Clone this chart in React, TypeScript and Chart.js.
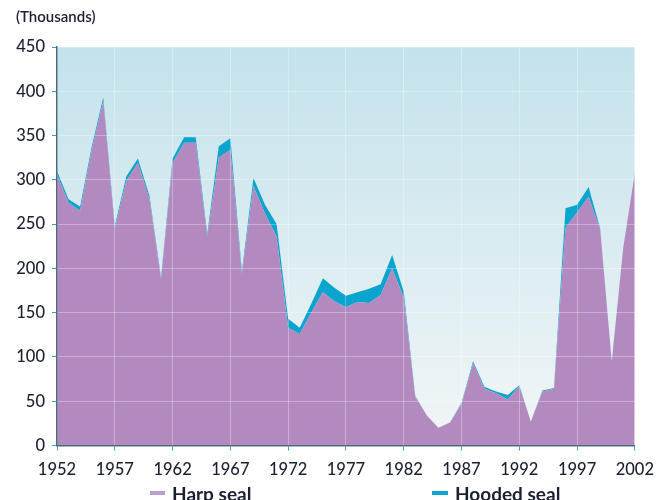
import React, { useEffect, useRef } from "react";
import { Chart, registerables } from "chart.js";

Chart.register(...registerables);

const years: number[] = [
  1952, 1953, 1954, 1955, 1956, 1957, 1958, 1959, 1960, 1961,
  1962, 1963, 1964, 1965, 1966, 1967, 1968, 1969, 1970, 1971,
  1972, 1973, 1974, 1975, 1976, 1977, 1978, 1979, 1980, 1981,
  1982, 1983, 1984, 1985, 1986, 1987, 1988, 1989, 1990, 1991,
  1992, 1993, 1994, 1995, 1996, 1997, 1998, 1999, 2000, 2001,
  2002,
];

// Thousands of animals
const harpSeal: number[] = [
  306, 274, 265, 333, 389, 245, 299, 319, 278, 188,
  319, 342, 342, 236, 325, 334, 194, 293, 262, 236,
  133, 126, 150, 173, 163, 156, 162, 161, 170, 200,
  167, 55, 34, 20, 26, 47, 93, 64, 59, 52,
  67, 27, 61, 64, 246, 263, 281, 244, 95, 224,
  308,
];

const hoodedSeal: number[] = [
  4, 4, 5, 4, 4, 3, 5, 5, 4, 2,
  5, 6, 6, 3, 13, 13, 3, 9, 10, 14,
  10, 7, 10, 16, 15, 13, 11, 16, 12, 15,
  7, 1, 0, 0, 0, 1, 2, 2, 2, 5,
  1, 0, 1, 1, 22, 9, 11, 1, 0, 0,
  0,
];

const seriesNames: string[] = ["Harp seal", "Hooded seal"];
const unitLabel = "(Thousands)";
const yMin = 0;
const yMax = 450;
const yStep = 50;
const xStep = 5;

const HARP_COLOR = "#b28ac0";
const HOODED_COLOR = "#0aa5cf";
const TEXT_COLOR = "#1a2030";
const FONT = "Lato, 'Open Sans', sans-serif";

const plotBackground = {
  id: "plotBackground",
  beforeDraw(chart: any) {
    const { ctx, chartArea: a } = chart;
    if (!a) return;
    const g = ctx.createLinearGradient(0, a.top, 0, a.bottom);
    g.addColorStop(0, "#c3e2eb");
    g.addColorStop(1, "#f2f6f7");
    ctx.save();
    ctx.fillStyle = g;
    ctx.fillRect(a.left, a.top, a.right - a.left, a.bottom - a.top);
    ctx.restore();
  },
};

export default function App() {
  const canvasRef = useRef<HTMLCanvasElement | null>(null);

  useEffect(() => {
    const canvas = canvasRef.current;
    if (!canvas) return;
    const gridOpts = {
      color: "rgba(255,255,255,0.3)",
      lineWidth: 1,
      tickColor: "#3a9fd0",
      tickLength: 5,
      z: 1,
    };
    const borderOpts = { color: "#4c6a7c", width: 1.5, z: 2 };
    const chart = new Chart(canvas, {
      type: "line",
      data: {
        datasets: [
          {
            label: seriesNames[0],
            data: years.map((x, i) => ({ x, y: harpSeal[i] })),
            backgroundColor: HARP_COLOR,
            borderColor: "rgba(0,0,0,0)",
            borderWidth: 0,
            fill: "origin",
            pointRadius: 0,
            tension: 0,
          },
          {
            label: seriesNames[1],
            data: years.map((x, i) => ({ x, y: hoodedSeal[i] })),
            backgroundColor: HOODED_COLOR,
            borderColor: "rgba(0,0,0,0)",
            borderWidth: 0,
            fill: "-1",
            pointRadius: 0,
            tension: 0,
          },
        ],
      },
      options: {
        animation: false,
        responsive: false,
        layout: { padding: { left: 16, right: 22, top: 0, bottom: 0 } },
        plugins: {
          legend: { display: false },
          tooltip: { enabled: false },
          title: {
            display: true,
            text: unitLabel,
            align: "start",
            color: TEXT_COLOR,
            font: { family: FONT, size: 15, weight: "600" },
            padding: { top: 8, bottom: 21 },
          },
        },
        scales: {
          x: {
            type: "linear",
            min: years[0],
            max: years[years.length - 1],
            afterFit(s: any) {
              s.height = 54.5;
            },
            ticks: {
              stepSize: xStep,
              autoSkip: false,
              maxRotation: 0,
              padding: 9,
              color: TEXT_COLOR,
              font: { family: FONT, size: 16.5, weight: "500" },
              callback: (v: any) => String(v),
            },
            grid: gridOpts,
            border: borderOpts,
          },
          y: {
            stacked: true,
            min: yMin,
            max: yMax,
            afterFit(s: any) {
              s.width = 41;
            },
            ticks: {
              stepSize: yStep,
              padding: 7,
              color: TEXT_COLOR,
              font: { family: FONT, size: 16.5, weight: "500" },
            },
            grid: gridOpts,
            border: borderOpts,
          },
        },
      },
      plugins: [plotBackground],
    } as any);
    return () => chart.destroy();
  }, []);

  const legendText: React.CSSProperties = {
    position: "absolute",
    top: 483.5,
    fontFamily: FONT,
    fontWeight: "bold",
    fontSize: 19,
    lineHeight: "19px",
    color: TEXT_COLOR,
    whiteSpace: "nowrap",
  };

  return (
    <div
      style={{
        position: "fixed",
        left: 0,
        top: 0,
        width: 663,
        height: 500,
        overflow: "hidden",
        background: "#ffffff",
      }}
    >
      <canvas ref={canvasRef} width={663} height={500} style={{ display: "block" }} />
      <div style={{ position: "absolute", left: 150, top: 491, width: 15, height: 4, background: "#b9a0d0" }} />
      <div style={{ ...legendText, left: 172 }}>{seriesNames[0]}</div>
      <div style={{ position: "absolute", left: 432, top: 491, width: 16, height: 4, background: HOODED_COLOR }} />
      <div style={{ ...legendText, left: 455 }}>{seriesNames[1]}</div>
    </div>
  );
}
